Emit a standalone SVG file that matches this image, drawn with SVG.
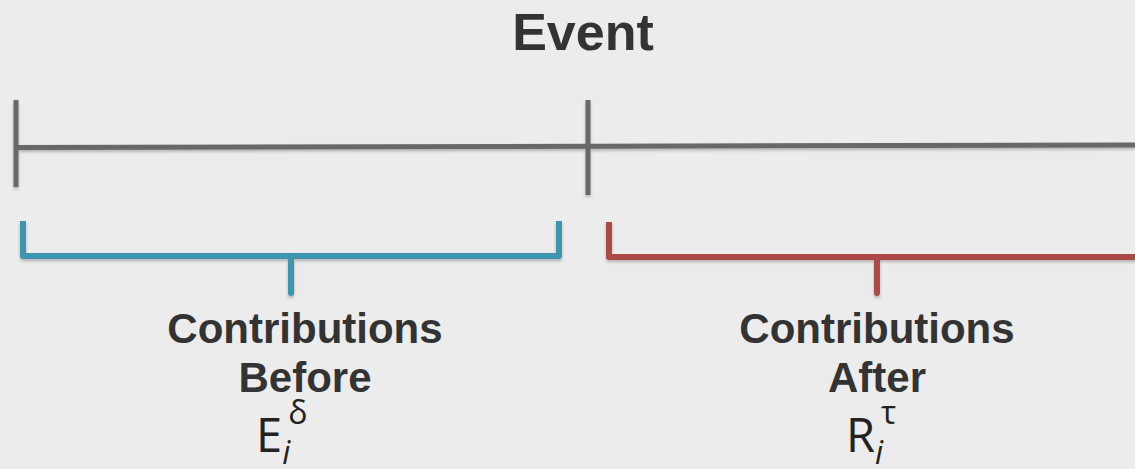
<svg xmlns="http://www.w3.org/2000/svg" width="1135" height="469" viewBox="0 0 1135 469">
<defs>
<filter id="sh" x="-5%" y="-20%" width="110%" height="140%">
<feDropShadow dx="0" dy="2" stdDeviation="1.5" flood-color="#000" flood-opacity="0.25"/>
</filter>
<style>
.tl{stroke:#676767;fill:none;}
.blue{stroke:#3c96ad;stroke-width:6;fill:none;stroke-linejoin:round;}
.red{stroke:#aa4a45;stroke-width:6;fill:none;stroke-linejoin:round;}
.h{font-family:"Liberation Sans",Arial,sans-serif;font-weight:bold;fill:#333;text-anchor:middle;}
.m{font-family:"Open Sans","DejaVu Sans",sans-serif;fill:#222;}
</style>
</defs>
<rect width="1135" height="469" fill="#ececec"/>
<g id="title"><text class="h" x="583" y="50" font-size="52">Event</text></g>
<g id="timeline" filter="url(#sh)">
<line class="tl" x1="15" y1="147.5" x2="1135" y2="145" stroke-width="5"/>
<line class="tl" x1="16" y1="100" x2="16" y2="187" stroke-width="5"/>
<line class="tl" x1="588" y1="100" x2="588" y2="195" stroke-width="5"/>
</g>
<g id="connectors">
<g id="before-bracket" filter="url(#sh)">
<path class="blue" d="M23 221 V256 H559 V221"/>
<path class="blue" d="M291 256 V293" stroke-linecap="round"/>
</g>
<g id="after-bracket" filter="url(#sh)">
<path class="red" d="M609 222 V257 H1140"/>
<path class="red" d="M877 257 V293" stroke-linecap="round"/>
</g>
</g>
<g id="before">
<text class="h" x="305" y="343" font-size="42">Contributions</text>
<text class="h" x="305" y="392" font-size="42">Before</text>
<text class="m" x="256" y="452" font-size="47">E<tspan font-size="32" font-style="italic" dy="12">i</tspan><tspan font-size="32" dx="-2" dy="-40">δ</tspan></text>
</g>
<g id="after">
<text class="h" x="877" y="343" font-size="42">Contributions</text>
<text class="h" x="877" y="392" font-size="42">After</text>
<text class="m" x="846" y="452" font-size="47">R<tspan font-size="32" font-style="italic" dy="12">i</tspan><tspan font-size="32" dx="-2" dy="-40">τ</tspan></text>
</g>
</svg>
